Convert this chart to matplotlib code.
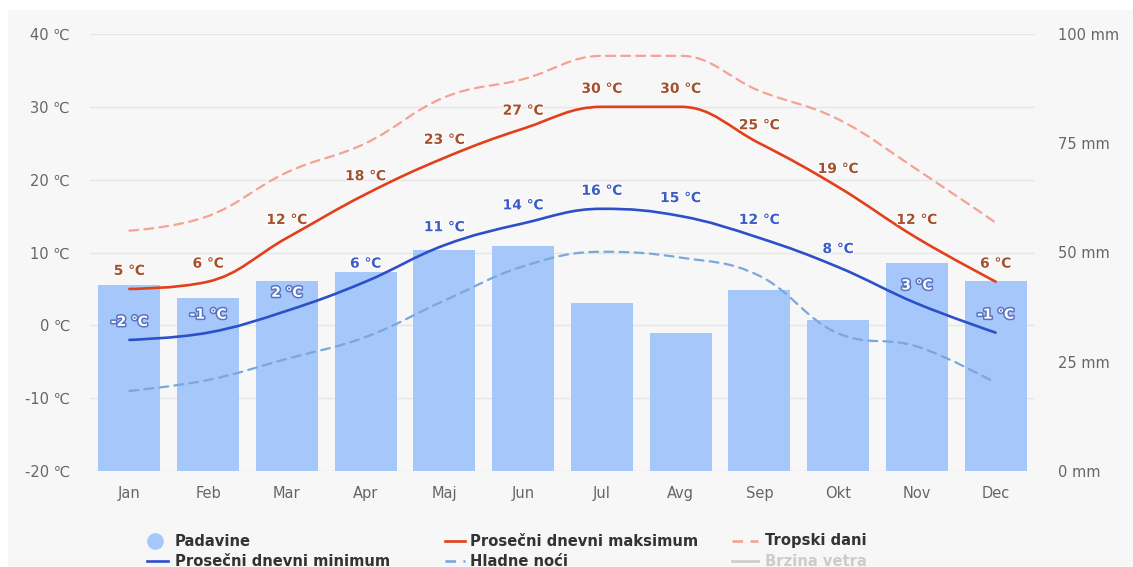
import matplotlib
matplotlib.use("Agg")
import matplotlib.pyplot as plt
import matplotlib.patheffects as pe
from matplotlib.path import Path
from matplotlib.patches import PathPatch, Rectangle
from matplotlib.lines import Line2D

# ---- data -------------------------------------------------------------
months = ["Jan", "Feb", "Mar", "Apr", "Maj", "Jun",
          "Jul", "Avg", "Sep", "Okt", "Nov", "Dec"]
precip_mm = [42.5, 39.5, 43.5, 45.5, 50.5, 51.5, 38.5, 31.5, 41.5, 34.5, 47.5, 43.5]
temp_max = [5, 6, 12, 18, 23, 27, 30, 30, 25, 19, 12, 6]
temp_min = [-2, -1, 2, 6, 11, 14, 16, 15, 12, 8, 3, -1]
tropical_days = [13.0, 15.0, 21.0, 25.0, 31.3, 33.8, 37.0, 37.0, 32.2, 28.3, 21.4, 14.1]
cold_nights = [-9.0, -7.5, -4.6, -1.6, 3.4, 8.1, 10.1, 9.3, 6.8, -1.1, -2.9, -7.9]

temp_ticks = [-20, -10, 0, 10, 20, 30, 40]
mm_ticks = [0, 25, 50, 75, 100]

# ---- style ------------------------------------------------------------
BAR = "#a5c7fa"
RED = "#e2401b"
BLUE = "#2d4fc9"
SALMON = "#f5a293"
LIGHTBLUE = "#7aa7dd"
LABEL_RED = "#a4502b"
LABEL_BLUE = "#3b5bc6"
TICK = "#666666"
GRID = "#e6e6e6"
PANEL = "#f7f7f7"
PX = 0.72  # points per pixel at 100 dpi

W, H = 1133, 567
fig = plt.figure(figsize=(W / 100, H / 100), dpi=100)
fig.patch.set_facecolor("white")
fig.add_artist(Rectangle((8 / W, 0), 1 - 8 / W, 1 - 10 / H,
                         transform=fig.transFigure, facecolor=PANEL,
                         edgecolor="none", zorder=-10))

left, right, top, bottom = 90, 1035, 34, 471
rect = [left / W, 1 - bottom / H, (right - left) / W, (bottom - top) / H]

# bottom layer: temperature grid
axg = fig.add_axes(rect)
axg.set_facecolor("none")
axg.set_ylim(-20, 40)
axg.set_xlim(0, 1)
axg.set_yticks(temp_ticks)
axg.set_xticks([])
axg.grid(axis="y", color=GRID, linewidth=1)
axg.tick_params(axis="y", length=0, labelleft=False)
for s in axg.spines.values():
    s.set_visible(False)

# middle layer: precipitation columns (right axis)
ax = fig.add_axes(rect)
ax.set_facecolor("none")
x = list(range(len(months)))
ax.bar(x, precip_mm, width=0.79, color=BAR, zorder=2)
ax.set_ylim(0, 100)
ax.set_xlim(-0.5, len(months) - 0.5)
ax.set_yticks(mm_ticks)
ax.set_yticklabels([f"{v} mm" for v in mm_ticks])
ax.yaxis.tick_right()
ax.set_xticks(x)
ax.set_xticklabels(months)
ax.tick_params(axis="x", length=0, pad=11, labelsize=10.5, labelcolor=TICK)
ax.tick_params(axis="y", length=0, pad=23 * PX, labelsize=10.5, labelcolor=TICK)
for s in ax.spines.values():
    s.set_visible(False)
for lbl in ax.get_yticklabels():
    lbl.set_horizontalalignment("left")

# top layer: temperature lines (left axis)
axt = fig.add_axes(rect, sharex=ax)
axt.set_facecolor("none")
axt.set_ylim(-20, 40)
axt.set_yticks(temp_ticks)
axt.set_yticklabels([f"{v} \u2103" for v in temp_ticks])
axt.tick_params(axis="y", length=0, pad=20 * PX, labelsize=10.5, labelcolor=TICK)
axt.tick_params(axis="x", bottom=False, labelbottom=False)
for s in axt.spines.values():
    s.set_visible(False)


def spline_path(xs, ys, smoothing=1.5):
    """Smooth curve through the points using cubic Bezier segments."""
    n = len(xs)
    denom = smoothing + 1
    lefts = [None] * n
    rights = [None] * n
    for i in range(1, n - 1):
        px, py = xs[i - 1], ys[i - 1]
        cx, cy = xs[i], ys[i]
        nx, ny = xs[i + 1], ys[i + 1]
        lcx = (smoothing * cx + px) / denom
        lcy = (smoothing * cy + py) / denom
        rcx = (smoothing * cx + nx) / denom
        rcy = (smoothing * cy + ny) / denom
        if rcx != lcx:
            corr = (rcy - lcy) * (rcx - cx) / (rcx - lcx) + cy - rcy
            lcy += corr
            rcy += corr
        if lcy > py and lcy > cy:
            lcy = max(py, cy)
            rcy = 2 * cy - lcy
        elif lcy < py and lcy < cy:
            lcy = min(py, cy)
            rcy = 2 * cy - lcy
        if rcy > ny and rcy > cy:
            rcy = max(ny, cy)
            lcy = 2 * cy - rcy
        elif rcy < ny and rcy < cy:
            rcy = min(ny, cy)
            lcy = 2 * cy - rcy
        lefts[i] = (lcx, lcy)
        rights[i] = (rcx, rcy)
    verts = [(xs[0], ys[0])]
    codes = [Path.MOVETO]
    for i in range(1, n):
        c1 = rights[i - 1] or (xs[i - 1], ys[i - 1])
        c2 = lefts[i] or (xs[i], ys[i])
        verts += [c1, c2, (xs[i], ys[i])]
        codes += [Path.CURVE4] * 3
    return Path(verts, codes)


DASH = (0, (4, 2.8))
series = [
    (tropical_days, SALMON, 1.6, DASH),
    (cold_nights, LIGHTBLUE, 1.6, DASH),
    (temp_min, BLUE, 1.9, "solid"),
    (temp_max, RED, 1.9, "solid"),
]
for vals, col, lw, ls in series:
    axt.add_patch(PathPatch(spline_path(x, vals), fill=False, edgecolor=col,
                            linewidth=lw, linestyle=ls, capstyle="round",
                            joinstyle="round", zorder=3))

# value labels above the two solid lines
fig.canvas.draw()
p0 = axt.transData.transform((0, 0))[1]
p1 = axt.transData.transform((0, 1))[1]
deg_per_px = 1.0 / (p1 - p0)
LABEL_OFF_PX = 18
for vals, col in ((temp_max, LABEL_RED), (temp_min, LABEL_BLUE)):
    for i, v in enumerate(vals):
        label_y = v + LABEL_OFF_PX * deg_per_px
        bar_top = -20 + precip_mm[i] * 60 / 100
        if label_y < bar_top - 0.3:
            fc, effects = "white", [pe.withStroke(linewidth=2.2, foreground="#5a72c2")]
        else:
            fc, effects = col, [pe.withStroke(linewidth=1.5, foreground="white")]
        axt.annotate(f"{v} \u2103", (i, v), xytext=(0, LABEL_OFF_PX * PX),
                     textcoords="offset points", ha="center", va="center",
                     fontsize=10, fontweight="bold", color=fc,
                     path_effects=effects, zorder=5, annotation_clip=False)

# ---- legend -----------------------------------------------------------
row1 = 1 - 541 / H
row2 = 1 - 561 / H
LEG_TXT = "#333333"


def fx(px):
    return px / W


fig.add_artist(Line2D([fx(155)], [row1], marker="o", markersize=11,
                      color=BAR, linestyle="none", transform=fig.transFigure))
legend_lines = [
    (147, 168, row2, BLUE, "solid"),
    (445, 465, row1, RED, "solid"),
    (732, 758, row1, SALMON, DASH),
    (445, 465, row2, LIGHTBLUE, DASH),
    (732, 758, row2, "#cccccc", "solid"),
]
for x0, x1, yy, col, ls in legend_lines:
    fig.add_artist(Line2D([fx(x0), fx(x1)], [yy, yy], color=col, linewidth=1.9,
                          linestyle=ls, transform=fig.transFigure))

legend_texts = [
    (175, row1, "Padavine", LEG_TXT),
    (175, row2, "Prosečni dnevni minimum", LEG_TXT),
    (470, row1, "Prosečni dnevni maksimum", LEG_TXT),
    (470, row2, "Hladne noći", LEG_TXT),
    (765, row1, "Tropski dani", LEG_TXT),
    (765, row2, "Brzina vetra", "#cccccc"),
]
for px, yy, txt, col in legend_texts:
    fig.text(fx(px), yy, txt, ha="left", va="center", fontsize=10.6,
             fontweight="bold", color=col)

fig.savefig("out.png", dpi=100, facecolor=fig.get_facecolor())
